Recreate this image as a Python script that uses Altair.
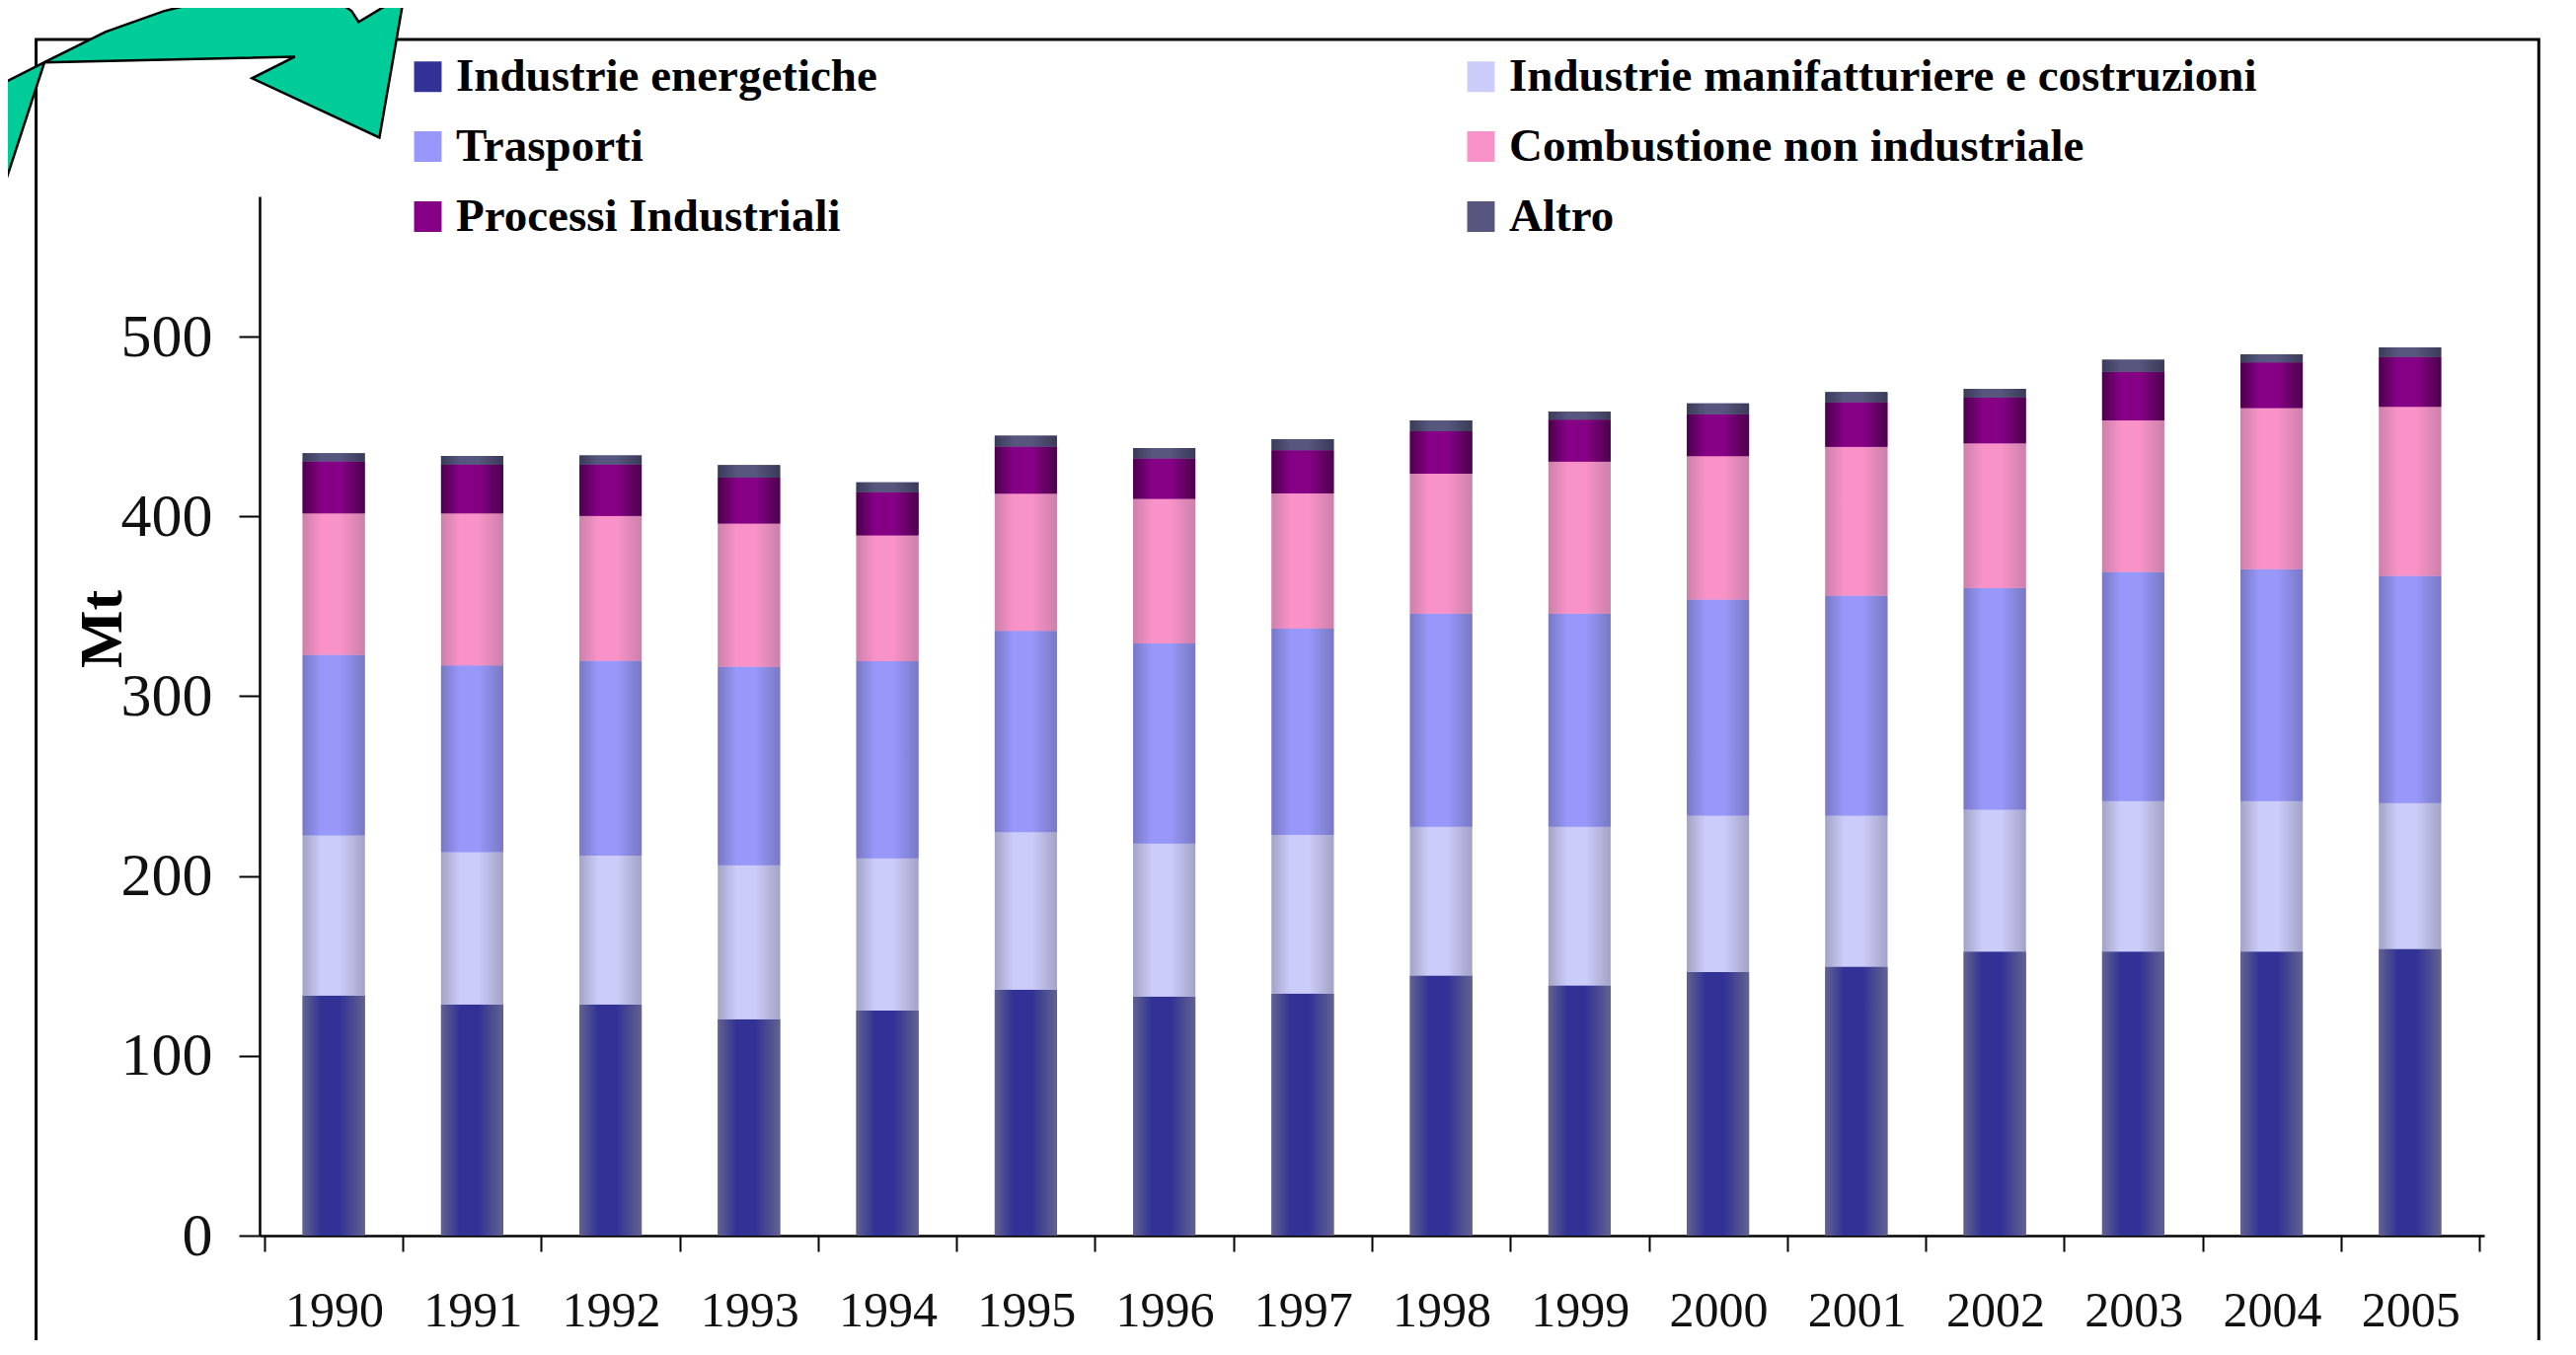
import altair as alt
import pandas as pd

# ---------------- data ----------------
years = list(range(1990, 2006))
categories = [
    "Industrie energetiche",
    "Industrie manifatturiere e costruzioni",
    "Trasporti",
    "Combustione non industriale",
    "Processi Industriali",
    "Altro",
]
energetiche = [133.5, 128.6, 128.6, 120.3, 125.2, 136.8, 133.0, 134.6, 144.7, 139.1, 146.6, 149.6, 157.9, 157.9, 157.9, 159.4]
manifatturiere = [89.1, 84.6, 82.7, 85.7, 84.6, 87.6, 85.0, 88.3, 82.7, 88.3, 86.9, 83.9, 78.9, 83.8, 83.8, 81.2]
trasporti = [100.5, 104.0, 108.5, 110.5, 109.7, 112.0, 111.3, 114.7, 118.5, 118.5, 120.3, 122.5, 123.4, 127.5, 129.0, 126.3]
combustione = [78.5, 84.5, 80.5, 79.5, 70.0, 76.3, 80.5, 75.2, 77.8, 84.6, 79.7, 82.7, 80.4, 84.2, 89.5, 94.0]
processi = [29.0, 27.0, 28.6, 25.6, 24.0, 26.2, 22.5, 24.0, 23.7, 23.3, 23.3, 24.8, 25.4, 27.1, 25.5, 27.8]
altro = [4.5, 5.0, 5.0, 7.0, 5.5, 6.0, 5.7, 6.2, 6.0, 4.5, 6.0, 5.7, 5.0, 6.7, 4.5, 5.3]
y_ticks = [0, 100, 200, 300, 400, 500]

center_colors = ["#323296", "#CCCCFA", "#9898FA", "#F892C8", "#860086", "#56567E"]
edge_colors = ["#62628F", "#A3A3C6", "#7878C4", "#CC80AA", "#4C004C", "#3A3A58"]

# decorative arrow outline (in chart data units: year, Mt)
arrow_x = [1987.49, 1987.64, 1987.92, 1988.35, 1988.77, 1989.20, 1989.69, 1990.01, 1990.13, 1990.18,
           1990.51, 1990.33, 1989.41, 1989.72, 1987.91, 1987.64, 1987.49, 1987.49]
arrow_y = [635.4, 642.0, 653.0, 669.5, 681.0, 689.2, 692.0, 687.6, 681.0, 675.0,
           690.3, 610.7, 643.7, 655.7, 652.5, 588.8, 555.8, 635.4]
# slide frame (in chart data units)
frame_x = [1987.85, 2005.93]
frame_y = [-95.0, 665.3]

# ---------------- tables ----------------
series = [energetiche, manifatturiere, trasporti, combustione, processi, altro]
rows = []
for k, (cat, vals) in enumerate(zip(categories, series)):
    for yr, v in zip(years, vals):
        rows.append({"year": yr, "cat": cat, "k": k, "value": v})
df = pd.DataFrame(rows)

df_arrow = pd.DataFrame({"ax": arrow_x, "ay": arrow_y, "i": list(range(len(arrow_x)))})
df_frame = pd.DataFrame({"fx0": [frame_x[0]], "fx1": [frame_x[1]], "fy0": [frame_y[0]], "fy1": [frame_y[1]]})

FONT = "Liberation Serif"
W, H = 2254, 1053

x_scale = alt.Scale(domain=[years[0] - 0.5, years[-1] + 0.5], nice=False, zero=False)
y_scale = alt.Scale(domain=[0, 578], nice=False, zero=True)

tick_values = [y - 0.5 for y in years] + [years[-1] + 0.5]
x_axis = alt.Axis(
    values=tick_values,
    labelExpr="datum.value < %d ? format(datum.value + 0.5, 'd') : ''" % years[-1],
    labelOffset=W / len(years) / 2,
    labelFlush=False,
    labelOverlap=False,
    tickSize=16, tickWidth=2, tickColor="black",
    domainWidth=2.5, domainColor="black",
    labelFont=FONT, labelFontSize=50, labelColor="#111111", labelPadding=35,
    grid=False, title=None,
)
y_axis = alt.Axis(
    values=y_ticks,
    tickSize=21, tickWidth=2, tickColor="black",
    domainWidth=2.5, domainColor="black",
    labelFont=FONT, labelFontSize=62, labelColor="#111111", labelPadding=27,
    grid=False,
    title="Mt", titleFont=FONT, titleFontSize=62, titleFontWeight="bold", titleColor="black",
    titleAngle=270, titleX=-160, titleY=438, titleAlign="center", titleBaseline="middle",
)

legend = alt.Legend(
    title=None, orient="none", legendX=147, legendY=-145, columns=2, direction="horizontal",
    labelFont=FONT, labelFontSize=47, labelFontWeight="bold", labelColor="black",
    labelLimit=1200, labelOffset=5,
    symbolType="M-0.9,-1H0.9V1H-0.9Z", symbolSize=961, symbolStrokeWidth=0, symbolOpacity=1,
    rowPadding=23, columnPadding=588, padding=0,
)

BAR = 63
base = alt.Chart(df).mark_bar(size=BAR).encode(
    x=alt.X("year:Q", scale=x_scale, axis=x_axis),
    y=alt.Y("value:Q", stack="zero", scale=y_scale, axis=y_axis),
    color=alt.Color("cat:N", scale=alt.Scale(domain=categories, range=center_colors), legend=legend),
    order=alt.Order("k:Q", sort="ascending"),
)

layers = [base]
for k, cat in enumerate(categories):
    grad = alt.LinearGradient(
        gradient="linear", x1=0, x2=1, y1=0, y2=0,
        stops=[
            alt.GradientStop(offset=0, color=edge_colors[k]),
            alt.GradientStop(offset=0.3, color=center_colors[k]),
            alt.GradientStop(offset=0.6, color=center_colors[k]),
            alt.GradientStop(offset=1, color=edge_colors[k]),
        ],
    )
    lay = (
        alt.Chart(df)
        .transform_stack(stack="value", groupby=["year"], as_=["v0", "v1"],
                         sort=[alt.SortField("k", order="ascending")])
        .transform_filter(alt.datum.k == k)
        .mark_bar(size=BAR, fill=grad)
        .encode(
            x=alt.X("year:Q", scale=x_scale, axis=x_axis),
            y=alt.Y("v0:Q", scale=y_scale, axis=y_axis),
            y2="v1:Q",
        )
    )
    layers.append(lay)

frame = alt.Chart(df_frame).mark_rect(fillOpacity=0, stroke="black", strokeWidth=3).encode(
    x=alt.X("fx0:Q", scale=x_scale, axis=x_axis),
    x2="fx1:Q",
    y=alt.Y("fy0:Q", scale=y_scale, axis=y_axis),
    y2="fy1:Q",
)
layers.append(frame)

arrow = alt.Chart(df_arrow).mark_line(fill="#00CC99", stroke="black", strokeWidth=2.5, strokeJoin="miter").encode(
    x=alt.X("ax:Q", scale=x_scale, axis=x_axis),
    y=alt.Y("ay:Q", scale=y_scale, axis=y_axis),
    order=alt.Order("i:Q"),
)
layers.append(arrow)

chart = (
    alt.layer(*layers)
    .properties(
        width=W, height=H,
        autosize=alt.AutoSizeParams(type="none"),
        padding={"left": 255, "top": 191, "right": 80, "bottom": 106},
        background="white",
    )
    .configure_view(strokeWidth=0)
)

chart.save("out.html", embed_options={"renderer": "svg", "actions": False})
